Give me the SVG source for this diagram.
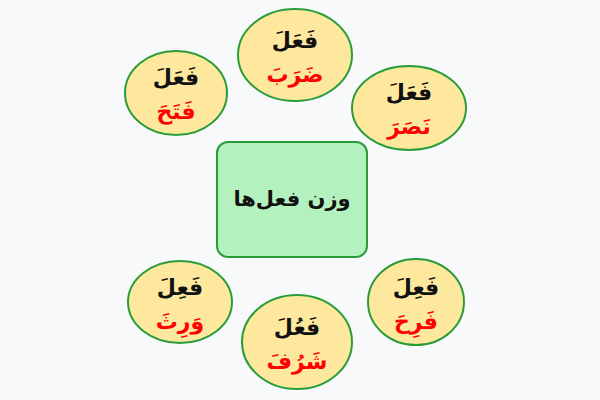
<svg xmlns="http://www.w3.org/2000/svg" width="600" height="400" viewBox="0 0 600 400">
<style>
.n ellipse{fill:#fde89e;stroke:#2a9d3a;stroke-width:2}
.b{fill:#b3f2be;stroke:#2a9d3a;stroke-width:2}
text{font-family:"DejaVu Sans","Noto Sans",sans-serif;text-anchor:middle;direction:rtl;font-weight:bold}
.k{fill:#111;font-size:22px}
.r{fill:#ff0000;font-size:22px}
.c{fill:#111;font-size:21px}
</style>
<rect width="600" height="400" fill="#f8f9fa"/>
<g id="connectors"></g>
<g id="center"><rect class="b" x="217" y="142" width="150" height="115" rx="11"/><text class="c" x="292" y="206">وزن فعل‌ها</text></g>
<g id="n-top" class="n"><ellipse cx="295" cy="55" rx="57" ry="46"/><text class="k" x="295" y="48">فَعَلَ</text><text class="r" x="295" y="82">ضَرَبَ</text></g>
<g id="n-topleft" class="n"><ellipse cx="176" cy="93" rx="51" ry="42"/><text class="k" x="176" y="85">فَعَلَ</text><text class="r" x="176" y="119">فَتَحَ</text></g>
<g id="n-topright" class="n"><ellipse cx="409" cy="108" rx="57" ry="42"/><text class="k" x="409" y="100">فَعَلَ</text><text class="r" x="409" y="134">نَصَرَ</text></g>
<g id="n-bottomleft" class="n"><ellipse cx="180" cy="302" rx="52" ry="41"/><text class="k" x="180" y="295">فَعِلَ</text><text class="r" x="180" y="329">وَرِثَ</text></g>
<g id="n-bottom" class="n"><ellipse cx="297" cy="342" rx="55" ry="47"/><text class="k" x="297" y="335">فَعُلَ</text><text class="r" x="297" y="369">شَرُفَ</text></g>
<g id="n-bottomright" class="n"><ellipse cx="416" cy="302" rx="48" ry="43"/><text class="k" x="416" y="295">فَعِلَ</text><text class="r" x="416" y="329">فَرِحَ</text></g>
</svg>
